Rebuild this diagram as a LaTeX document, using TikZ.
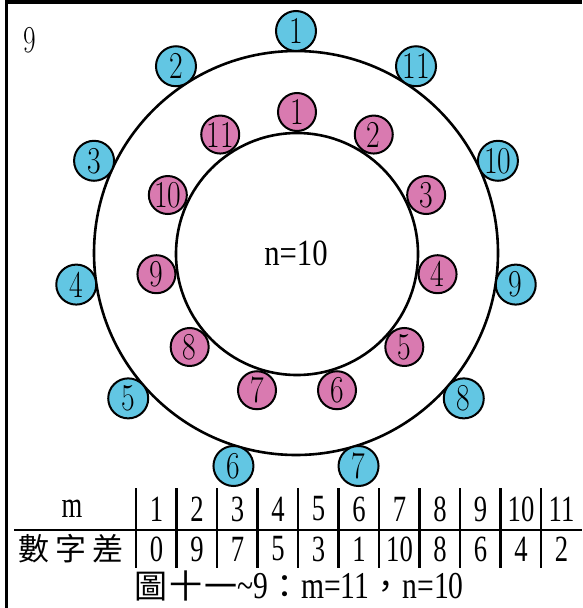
\documentclass[tikz,border=0pt]{standalone}
\usepackage{fontspec}
\usepackage{graphicx}
\newfontfamily\cjk{Noto Sans CJK TC}
\newfontfamily\tabf{Liberation Serif}
\definecolor{cblue}{RGB}{98,198,227}
\definecolor{cpink}{RGB}{217,122,176}
\newcommand{\nx}[1]{\scalebox{0.72}[1]{#1}}
\newcommand{\ny}[1]{\scalebox{0.78}[1]{#1}}
\begin{document}
\begin{tikzpicture}[x=1pt,y=-1pt,
  ring/.style={circle,draw,line width=2.6pt,inner sep=0pt},
  bnode/.style={circle,draw,line width=2pt,fill=cblue,minimum size=40pt,inner sep=0pt,font=\fontsize{38}{38}\selectfont},
  pnode/.style={circle,draw,line width=2pt,fill=cpink,minimum size=38pt,inner sep=0pt,font=\fontsize{38}{38}\selectfont},
  ttxt/.style={inner sep=0pt,font=\fontsize{37}{37}\tabf},
  ctxt/.style={inner sep=0pt,font=\fontsize{31}{31}\cjk},
  rule/.style={line width=2.6pt}]
\useasboundingbox (0,0) rectangle (582,608);
\draw[line width=3.2pt] (6.5,608) -- (6.5,2) -- (582,2);
\node[inner sep=0pt,font=\fontsize{38}{38}\selectfont] (fig) at (30,40) {\nx{9}};
\node[ring,minimum size=404pt] (outer) at (296,253) {};
\node[ring,minimum size=242pt] (inner) at (297,254) {};
\node[ttxt] (ntext) at (296,253) {\scalebox{0.83}[1]{n=10}};
\foreach \k in {1,...,11} {
  \pgfmathsetmacro\a{90+(\k-1)*360/11}
  \node[bnode] (b\k) at ({296+222*cos(\a)},{253-222*sin(\a)}) {\ny{\k}};
  \pgfmathsetmacro\c{90-(\k-1)*360/11}
  \node[pnode] (p\k) at ({297+142*cos(\c)},{254-142*sin(\c)}) {\ny{\k}};
}
% table
\draw[rule] (14,530) -- (582,530);
\foreach \i in {0,...,10} {
  \draw[rule] ({136+\i*40.5},488) -- ({136+\i*40.5},568);
}
\node[ttxt] (mlab) at (72,509) {\nx{m}};
\node[ctxt] (dlab) at (71,549) {數\hspace{6pt}字\hspace{6pt}差};
\foreach \v [count=\i from 0] in {1,2,3,4,5,6,7,8,9,10,11} {
  \node[ttxt] (m\v) at ({156.5+\i*40.5},509) {\nx{\v}};
}
\foreach \v [count=\i from 0] in {0,9,7,5,3,1,10,8,6,4,2} {
  \node[ttxt] (d\i) at ({156.5+\i*40.5},549) {\nx{\v}};
}
\node[inner sep=0pt,font=\fontsize{33}{33}\cjk] (cap) at (299,586)
  {圖\hspace{2pt}十\hspace{2pt}一{\tabf\fontsize{38}{38}\selectfont\ny{\textasciitilde 9}}：{\tabf\fontsize{38}{38}\selectfont\ny{m=11}}，{\tabf\fontsize{38}{38}\selectfont\ny{n=10}}};
\end{tikzpicture}
\end{document}
